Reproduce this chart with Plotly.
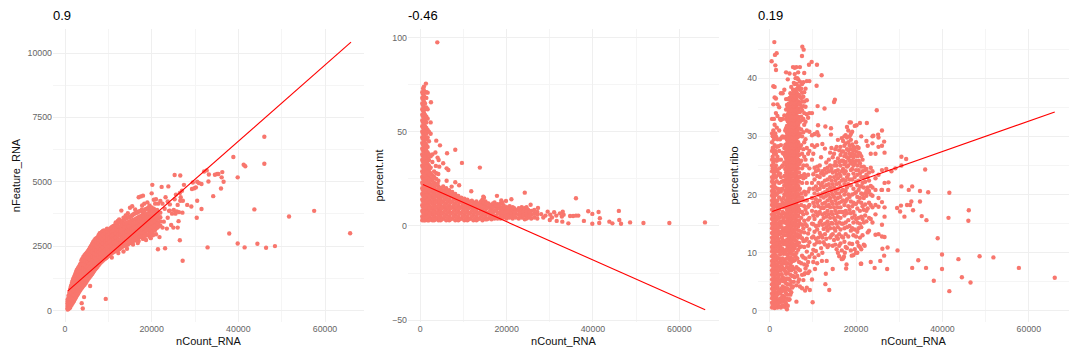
import plotly.graph_objects as go

POINT = "#F8766D"
# --- panel 1: nFeature_RNA vs nCount_RNA, columns of the dense band (count -> features)
feature_band = {
 600:[40,90,150,210,280,350,430], 800:[60,130,210,300,390,480,570], 1000:[90,180,280,380,480,590,690],
 1200:[120,240,360,480,600,720,840], 1500:[210,340,470,600,730,860,990], 1800:[300,440,590,740,890,1030,1170],
 2100:[380,530,690,840,990,1140,1290], 2400:[480,640,800,960,1120,1280,1430], 2700:[570,730,890,1050,1210,1370,1560],
 3000:[650,810,970,1130,1300,1460,1640], 3300:[740,900,1060,1220,1380,1540,1720], 3600:[820,980,1140,1300,1460,1620,1830],
 4000:[900,1060,1220,1380,1540,1700,1860,2010], 4500:[1000,1170,1340,1510,1680,1850,2020,2150], 5000:[1130,1300,1470,1640,1810,1980,2140,2240],
 5500:[1250,1420,1590,1760,1930,2100,2270,2360], 6000:[1360,1530,1700,1870,2040,2210,2380,2510], 6500:[1480,1650,1820,1990,2160,2330,2500,2660],
 7000:[1600,1770,1940,2110,2280,2450,2620,2780], 7500:[1700,1870,2040,2210,2380,2550,2700,2840], 8000:[1820,1990,2160,2330,2500,2660,2820,3000],
 8500:[1900,2070,2240,2410,2570,2730,2890,3050], 9000:[1980,2150,2320,2490,2650,2810,2970,3110], 9500:[2040,2210,2380,2550,2710,2870,3030],
 10000:[2120,2290,2460,2630,2790,2950,3110], 10500:[2190,2360,2530,2700,2860,3020,3200], 11000:[2250,2420,2590,2760,2920,3080,3260],
 11500:[2300,2470,2640,2810,2970,3130,3310], 12000:[2360,2530,2700,2870,3030,3190,3370], 12500:[2380,2560,2740,2910,3070,3240,3540],
 13000:[2450,2620,2790,2960,3120,3290,3460,3880], 13500:[2290,2500,2670,2840,3010,3170,3340,3600], 14000:[2540,2710,2880,3050,3210,3380,3690],
 14500:[2560,2750,2920,3090,3250,3420,3780], 15000:[2620,2790,2960,3130,3290,3460,3640,3990], 15500:[2700,2850,3010,3180,3340,3500,3700,4050],
 16000:[2720,2880,3050,3210,3370,3530,3760], 16500:[2760,2930,3090,3250,3410,3570,3810], 17000:[2700,2960,3130,3290,3450,3620,3840,4400],
 17500:[2860,3020,3180,3340,3500,3660,3880,4430], 18000:[2780,2990,3150,3310,3470,3640,3800,4460], 18500:[2900,3080,3240,3400,3560,3720,3920],
 19000:[2940,3120,3280,3440,3600,3760,3960,4200], 19500:[2870,3060,3220,3380,3540,3700,3880,4080], 20000:[3000,3170,3330,3490,3650,3810,4000,4550],
 20500:[3110,3280,3440,3600,3760,3950,4300], 21000:[2960,3200,3370,3530,3700,3870,4320], 21500:[3250,3420,3580,3750,4150],
 22000:[3300,3460,3620,3800,4250],
}
feature_fill = {
 1350:[290,420,550,680,800,930], 1650:[270,400,530,670,810,950,1100], 1950:[350,490,640,790,940,1090,1240], 2250:[440,590,750,910,1060,1210,1360],
 2550:[530,690,850,1010,1170,1330,1490], 2850:[610,770,930,1090,1250,1420,1590], 3150:[700,860,1020,1180,1340,1500,1680], 3450:[780,940,1100,1260,1420,1580,1770],
 3800:[860,1020,1180,1340,1500,1660,1800,1950], 4250:[960,1120,1290,1460,1630,1800,1960,2090], 4750:[1060,1230,1400,1570,1740,1910,2080,2200],
 5250:[1190,1360,1530,1700,1870,2040,2200,2300], 5750:[1310,1480,1650,1820,1990,2160,2330,2440], 6250:[1420,1590,1760,1930,2100,2270,2440,2580],
 6750:[1540,1710,1880,2050,2220,2390,2560,2720], 7250:[1650,1820,1990,2160,2330,2500,2670,2810], 7750:[1760,1930,2100,2270,2440,2610,2760,2920],
 8250:[1860,2030,2200,2370,2530,2690,2860,3010], 8750:[1940,2110,2280,2450,2610,2770,2930,3090], 9250:[2010,2180,2350,2520,2680,2840,3000],
 9750:[2080,2250,2420,2590,2750,2910,3070], 10250:[2150,2320,2490,2660,2820,2980,3150], 10750:[2220,2390,2560,2730,2890,3050,3230],
 11250:[2270,2440,2610,2780,2940,3100,3280], 11750:[2330,2500,2670,2840,3000,3160,3340], 12250:[2420,2590,2760,2930,3100,3280,3450],
 12750:[2420,2590,2760,2930,3090,3260,3430], 13250:[2480,2650,2820,2980,3140,3310,3490], 13750:[2520,2690,2860,3030,3190,3360,3520],
 14250:[2550,2730,2900,3070,3230,3400,3570], 14750:[2600,2770,2940,3110,3270,3440,3620], 15250:[2660,2820,2990,3150,3310,3480,3660],
 15750:[2710,2870,3030,3200,3350,3520,3730], 16250:[2740,2910,3070,3230,3390,3550,3780], 16750:[2800,2950,3110,3270,3430,3600,3800],
 17250:[2850,3000,3160,3320,3480,3640,3860], 17750:[2880,3040,3200,3360,3520,3690,3920], 18250:[2890,3040,3200,3360,3520,3680,3860],
 18750:[2920,3100,3260,3420,3580,3740,3940], 19250:[2960,3140,3300,3460,3620,3780,3980], 19750:[2980,3150,3300,3460,3620,3780,3960],
 20250:[3060,3230,3390,3550,3710,3880], 20750:[3120,3290,3460,3620,3790], 21250:[3210,3380,3550,3720,3900],
}
feature_sparse = [
 (22500,3220),(22800,3450),(23000,3950),(23200,4400),(23500,3180),(23700,3600),(24000,3870),(24200,4120),(24500,3320),(24700,3760),
 (25000,3220),(25100,3900),(25300,4320),(25500,3760),(25600,4500),(25800,3850),(26000,4100),(26200,3470),(26300,3820),(26500,4560),
 (26600,4260),(26700,4400),(27000,4650),(27100,3800),(27200,4260),(26000,3220),(24200,3880),(23700,4230),(22500,4150),(21800,2850),
 (10800,2060),(12300,2230),(14300,2400),(15700,2560),(16800,2620),(18700,2740),(19800,2810),(20300,2920),(12200,3480),(14800,3620),
 (16200,3920),(17800,4080),(18300,4150),(20800,4150),(11700,3420),(9700,3180),
]
feature_outliers = [
 (46000,6750),(46000,5700),(38850,5960),(41230,5660),(41600,5600),(39850,5170),(36300,5375),(36600,5000),(36000,4740),(36150,5170),
 (34200,4440),(35100,5300),(34600,5270),(35400,5300),(33100,5010),(33200,5280),(32700,5440),(32100,5400),(31500,4910),(30900,4950),
 (30500,5000),(29500,4970),(30200,4780),(29300,4720),(29850,4750),(30500,4260),(31500,3940),(30400,3600),(29150,4040),(28200,4100),
 (43700,3925),(51700,3650),(57500,3870),(65800,3000),(37900,2990),(39850,2600),(41450,2450),(44400,2590),(46400,2435),(48450,2500),
 (32900,2450),(26500,2730),(27150,1930),(21450,2380),(23100,2420),(25300,5260),(26600,5245),(20150,4880),(22300,4800),(23850,4820),
 (27450,4880),(9400,450),(4400,520),(3850,285),(4100,80),(5800,950),(2000,1210),(1600,1020),
]
feature_fit_x = [600,66000]
feature_fit_y = [750,10420]

# --- panel 2: percent.mt vs nCount_RNA (count -> percent)
mt_band = {
 450:[3,5,8,11,14,17,20,23,26,29,32,35,38,41,44,47,50,53,56,59,62,65,68,71],
 650:[4,7,10,13,16,19,22,25,28,31,34,37,40,43,46,49,52,55,58,61,64,67,70,73],
 850:[3,6,9,12,15,18,21,24,27,30,33,36,39,42,45,48,51,54,57,60,63,66,69,72,74],
 1100:[3,5,8,11,14,17,20,23,26,29,32,35,38,41,44,47,50,53,56,59,62,65],
 1400:[4,7,10,13,16,19,22,25,28,31,34,37,40,43,46,49,52,55,58,63,68,71],
 1700:[3,6,9,12,15,18,21,24,27,30,33,36,39,42,47,51,57,62],
 2000:[3,5,8,11,14,17,20,23,26,29,32,35,38,45,50],
 2400:[4,7,10,13,16,19,22,25,28,31,37,49,55],
 2800:[3,6,9,12,15,18,21,24,27,34,38],
 3200:[3,5,8,11,14,17,20,23,26,29],
 3700:[4,7,10,13,16,19,22,25,28],
 4200:[3,6,9,12,15,18,21,24],
 4700:[3,5,8,11,14,17,20],
 5300:[4,7,10,13,16,19,21],
 6000:[3,6,9,12,15,18,20],
 6700:[3,5,8,11,14,17,19],
 7400:[4,7,10,13,16,18],
 8100:[3,6,9,12,15,17],
 8800:[3,5,8,11,14,16],
 9500:[4,7,10,13,15],
 10200:[3,6,9,12,14.5],
 10900:[3,5,8,11,14],
 11600:[4,7,10,13],
 12300:[3,6,9,12.5],
 13000:[3,5,8,11,13],
 13700:[4,7,10,12],
 14400:[3,6,9,11.5,14],
 15100:[3.5,5,8,11,13],
 15800:[4,7,10,12],
 16500:[3.5,6,9,11],
 17200:[4,5,8,10.5,12.5],
 17900:[4,7,9.5,11.5],
 18600:[4,6,8,10,12],
 19300:[4.5,6.5,8.5,11],
 20000:[4,6,8,10],
 20700:[4.5,6.5,8.5,10.5],
 21400:[4,6,8,10],
 22100:[4.5,6.5,8.5],
 22800:[4,6,8,9.5],
 23500:[4.5,6.5,8.5,10],
 24200:[3.5,5.5,7.5,9.5],
 25000:[4.5,6.5,8.5],
 25700:[4,6,8],
 26400:[4.5,6.5,8.5],
 27100:[4,6,7.5],
}
mt_fill = {
 1000:[4.5,7.5,10,12.5,15.5,18.5,21.5,24.5,27.5,30.5,33.5,36.5],
 1550:[4.5,7.5,10.5,13.5,16.5,19.5,22.5,25.5,28.5,31.5,34.5],
 2200:[3.5,6.5,9.5,12.5,15.5,18.5,21.5,24.5,27.5,30.5],
 3000:[4.5,7.5,10.5,13.5,16.5,19.5,22.5,25.5],
 3500:[3.5,6.5,9.5,12.5,15.5,18.5,21.5],
 4000:[4.5,7.5,10.5,13.5,16.5,19.5,22.5],
 4500:[4,7,10,13,16,19],
 5000:[3.5,6.5,9.5,12.5,15.5,18.5],
 5650:[5,8,11,14,17],
 6350:[4,7,10,13,16,18.5],
 7050:[3.5,6.5,9.5,12.5,15.5,17.8],
 7750:[5,8,11,14,16.5],
 8450:[4,7,10,13,15.5],
 9150:[3.5,6.5,9.5,12.5,14.8],
 9850:[5,8,11,13.8],
 10550:[4,7,10,12.8],
 11250:[3.5,6.5,9.5,12.2],
 11950:[5,8,11,13.4],
 12650:[4,7,10,12],
 13350:[3.5,6.5,9.5,11.6],
 14050:[5,8,11,13],
 14750:[4,7,10,12.4,15],
 15450:[3.5,6.5,9.5,12],
 16150:[5,8,11],
 16850:[4.5,7,10,12],
 17550:[5.5,8.5,11],
 18250:[4.5,7,9.5,11],
 18950:[5,7.5,9.5,12.5],
 19650:[5,7,9.5],
 20350:[5.5,7.5,9.5],
 21050:[5,7,9],
 21750:[5.5,7.5,9.5],
 23150:[5,7,9],
 23850:[5.5,7.5],
 24600:[4,6,8,10],
 25350:[5.5,7.5],
}
mt_outliers = [
 (3940,97.5),(1300,75.6),(1700,70.8),(2470,65.7),(3700,45.3),(4560,42.8),(8100,40.5),(6200,38.6),(9650,33.5),(13800,31),
 (5300,33.3),(6100,30.6),(6500,29.7),(4250,35),(3500,39),(4000,36.3),(3600,31.9),(4400,31.5),(4170,27.6),(6100,24),
 (8100,23.2),(9000,21.6),(7260,20.9),(11800,18.4),(24200,17.7),(17760,16),(36060,14.7),(21100,14.2),(25560,11.3),(27260,9.6),
 (14600,15.6),(19850,13.3),(18760,13.5),(46000,8),(41300,7.4),(38900,7.8),(39850,6.4),(41600,4.1),(37900,2.7),(39850,1.2),
 (41450,1.6),(43800,2.3),(44500,1.4),(46100,3.2),(46500,1.2),(48600,1.9),(51700,1.6),(57700,1.6),(65950,1.9),(34700,5.3),
 (35400,5.3),(36060,5.5),(36600,5.5),(34300,1.4),(32900,2.3),(31600,2.7),(30000,3.2),(33000,7.6),(32350,6.7),(31000,7.3),
 (29500,7.6),(30100,6),(29000,5.5),(31500,5.5),(32800,5),(28500,4.5),(30500,4.5),(33200,6),(28000,6.3),
]
mt_fit_x = [600,66000]
mt_fit_y = [22,-44.5]

# --- panel 3: percent.ribo vs nCount_RNA (count -> percent)
ribo_band = {
 550:[0.6,1.4,2.2,3,3.8,4.6,5.4,6.2,7,7.8,8.6,9.4,10.2,11,11.8,12.6,13.4,14.2,15,15.8,16.6,17.4,18.2,19,19.8,20.6,21.4,22.2,23,24,25,26,27.5,29,30.5,33],
 850:[0.8,1.6,2.4,3.2,4,4.8,5.6,6.4,7.2,8,8.8,9.6,10.4,11.2,12,12.8,13.6,14.4,15.2,16,16.8,17.6,18.4,19.2,20,21,22,23,24,25.5,28,31,35.5,38.6],
 1150:[0.5,1.2,2,2.8,3.6,4.4,5.2,6,6.8,7.6,8.4,9.2,10,10.8,11.6,12.4,13.2,14,14.8,15.6,16.4,17.2,18,19,20.5,22,24,26,28.5,32,36.7,38.5],
 1450:[0.7,1.5,2.3,3.1,3.9,4.7,5.5,6.3,7.1,7.9,8.7,9.5,10.3,11.1,11.9,12.7,13.5,14.3,15.1,16,17,18.5,20,23,25,27,30,34,36.5],
 1800:[0.6,1.8,3,4.2,5.4,6.6,7.8,9,10.2,11.4,12.6,13.8,15,16.2,17.4,19,21,24,26.5,29.5,33.5,35.5],
 2200:[0.8,2,3.4,4.8,6.2,7.6,9,10.4,11.8,13.2,14.6,16,17.4,19.5,22,24.5,27.5,31,35],
 2600:[0.6,2.2,3.8,5.4,7,8.6,10.2,11.8,13.4,15,16.6,18.2,20.5,23,26,28.5,32.8,37.4],
 3000:[1,2.6,4.2,5.8,7.4,9,10.6,12.2,13.8,15.4,17,18.6,21,25,27.2,30,33,37.4],
 3400:[0.7,2.4,4,5.6,7.2,8.8,10.4,12,13.6,15.2,16.8,18.4,20,21.6,23.2,25.5,28,29.8,33.6,38],
 3800:[1.2,3,4.7,6.4,8.1,9.8,11.4,13,14.2,15.4,16.6,17.8,19,20.2,21.4,22.6,23.8,25,26.2,27.4,28.6,30,31.4,33,34.6,36.4,41],
 4200:[0.9,2.8,4.6,6.5,8.2,9.6,11,12.2,13.4,14.6,15.8,17,18.2,19.4,20.6,21.8,23,24.2,25.4,26.6,27.8,29,30.2,31.4,32.6,33.8,35,36.4,39.8],
 4600:[2,3.6,5.4,7,8.8,10,11.2,12.4,13.6,14.8,16,17.2,18.4,19.6,20.8,22,23.2,24.4,25.6,26.8,28,29.2,30.4,31.6,32.8,34,35.2,36.6,40.8],
 5000:[3.2,5,7,8.4,9.8,11,12.2,13.4,14.6,15.8,17,18.2,19.4,20.6,21.8,23,24.2,25.4,26.6,27.8,29,30.2,31.4,32.6,33.8,35,36.2,37,38.5],
 5400:[4.2,6,8.6,10.4,11.6,12.8,14,15.2,16.4,17.6,18.8,20,21.2,22.4,23.6,24.8,26,27.2,28.4,29.6,30.8,32,33.2,34.4,35.6,36.8,38,41.9],
 5800:[5.8,8.7,10.8,12.2,13.4,14.6,15.8,17,18.2,19.4,20.6,21.8,23,24.2,25.4,26.6,27.8,29,30.2,31.4,32.6,33.8,35,36.2,37.4,39,40.7,41.8],
 6200:[4.4,7.5,10,12,14,15.6,17,18.4,19.6,20.8,22,23.2,24.4,25.6,26.8,28,29.2,30.4,31.6,32.8,34,35.2,36.4,37.6,39,41.9],
 6600:[5,7.2,10.5,12.6,14.5,16.4,18,20,21.5,23,24.5,26,27.5,29,30.5,32,33.4,34.8,36,37.2,38.4,39.8,41],
 7000:[4.2,7,11,13,15,17,19,21,23,25.5,28,30.5,32.5,34.2,35.5,36.8,38,39.4,41.9],
 7500:[3.9,6.2,9.5,12.5,14.8,17,19.5,22,24.5,27,30,32.8,34.5,36,37.5,39],
 8000:[6.3,8,11,13.5,15.5,18,20.5,23.5,26.5,29,32,34,36,37.6,40.9],
 8600:[4,7.8,10.2,12.4,14.6,16.8,19,22,25,28,31,33.8,36.2,39.5],
 9200:[6.8,9.3,11.8,14,16,18.2,21,24.5,27.5,30.8,34,39.5],
 9800:[5.4,9.8,12.6,15,17.2,19.4,22,26,28.5,30.2,34],
 10400:[9.2,11.4,13.6,15.8,18,20.2,22.6,24.6,28.2,30.4],
 11000:[8.2,11.8,14,16.4,18.6,20.8,23.2,24.8,28.5,30.7],
 11600:[11.8,13.4,15.2,17,19,21,23,25],
 12200:[10,12.6,14.8,16.6,18.4,20.2,22,24,28.7],
 12800:[11.4,13.2,15,16.8,18.6,20.4,22.4,24.4,27.9],
 13400:[11,13.8,15.4,17.2,19,20.8,22.6,24.6],
 14000:[12.6,14.2,16,17.8,19.4,21.2,23,25,27.2],
 14600:[11.2,13.2,15,16.6,18.4,20,21.8,23.8,26.4],
 15200:[11.4,13.8,15.6,17.2,19,20.6,22.4,24,25.6,27.8],
 15800:[10,12.4,14.4,16.2,17.8,19.4,21,22.8,24.2,26.2,29.4],
 16400:[11.6,14,16,17.8,19.6,21.4,23.2,25,26.8,28.2],
 17000:[9,12.6,15,17,19,20.8,22.6,24.4,25.8,27.4,29.2],
 17600:[11,13.2,15.2,17.2,18.8,20.6,22.4,24,25.6,27,28.8,30.2],
 18200:[12.8,15.6,18,20,21.8,23.4,25,26.2,27.6,29,31],
 18800:[10.4,13.8,16.8,18.8,21.6,24.2,25.4,26.6,27.8,29.4,30.4,32.4],
 19400:[9.6,13,15.2,17,18.6,21,23.6,25,26.4,27.6,28.2],
 20000:[10,12.8,15.8,18.4,20.4,22.2,24.2,25.8,27.4,29],
 20600:[11.2,14.2,16,18.8,20.8,22.4,24.2,25.8,27.2,28],
 21200:[8.1,10.6,14.4,16.2,18.6,20.2,21.4,23,24.8,26.6,30],
 21800:[11.4,15.2,17.4,19.4,21.2,23,24.8],
 22400:[15.4,17.2,19.8,20.6,23.4,24.4,29.2],
 23000:[13.8,16,18.6,20.6,22.4,23.8],
 23800:[15.2,17.8,19.8,21.2,24,28.8,30],
 24500:[13.1,16.6,18.2,20.8,22.8,27],
 25200:[13.2,17.9,19.4,23.4,28.2,29.8],
 26000:[12.8,14.8,18.7,20.8,24.2,28.4],
 26600:[12.7,16.2,17.8,22,27.2],
}
ribo_fill = {
 700:[1,2.6,4.4,6.6,8.2,10.6,12.2,14.6,16.2,18.6,20.2,22.6,24.5,26.5,28,30],
 1000:[1.9,3.5,5.1,7.5,9.1,11.5,13.1,15.5,17.1,19.5,21.5,23.5,27,29.5,33],
 1300:[1,2.5,4.9,6.5,8.9,10.5,12.9,14.5,16.9,18.5,20,21.2,23,24.5,27.5,30.5],
 1650:[1.2,2.7,4.8,7.3,9.3,11.6,13.2,15.7,18,20,22.3,25.8,28.2,31.5],
 2000:[1.4,3.7,5.9,8.3,10.9,12.3,14.3,16.8,18.3,20.4,23.4,26,28.3],
 2400:[1.5,3,5.1,7,9.7,11.2,13.6,15.4,17.8,20.9,23.6,29.5,33],
 2800:[1.7,3.4,6.3,8,10.8,12.6,14.4,16.2,19.1,22.2,24.8,29.8],
 3200:[1.8,3.6,5.1,8.2,9.8,11.5,13,15.8,17.8,19.4,22.4,27],
 3600:[1.5,3.4,5.2,6.8,8.4,10,11.7,14.2,16.2,18,20.6,22.2,24.4,26.6,28.5,31],
 4000:[2.1,3.9,5.6,7.5,9,10.6,12.2,13.8,15,16.2,17.4,18.6,19.8,21,22.2,23.4,24.6,25.8,27,28.2,29.4,30.6,31.8,33.4,35.4],
 4400:[1.9,3.7,5.5,7.3,9,10.4,11.6,12.8,14,15.2,16.4,17.6,18.8,20,21.2,22.4,23.6,24.8,26,27.2,28.4,29.6,30.8,32,33.2,34.4,35.6],
 4800:[2.8,4.5,6.2,7.8,9.2,10.6,11.8,13,14.2,15.4,16.6,17.8,19,20.2,21.4,22.6,23.8,25,26.2,27.4,28.6,29.8,31,32.2,33.4,34.6,35.8,37.4],
 5200:[4,6,7.6,9,10.4,11.6,12.8,14,15.2,16.4,17.6,18.8,20,21.2,22.4,23.6,24.8,26,27.2,28.4,29.6,30.8,32,33.2,34.4,35.6,36.8],
 5600:[5,7.2,9.7,11.2,12.4,13.6,14.8,16,17.2,18.4,19.6,20.8,22,23.2,24.4,25.6,26.8,28,29.2,30.4,31.6,32.8,34,35.2,36.4,37.6,39.2],
 6000:[6.6,9.4,11.4,12.8,14,15.2,16.4,17.6,18.8,20,21.2,22.4,23.6,24.8,26,27.2,28.4,29.6,30.8,32,33.2,34.4,35.6,36.8,38,40],
 6400:[6,9,11.3,13.2,14.8,16.2,17.6,19,20.2,21.4,22.6,23.8,25,26.2,27.4,28.6,29.8,31,32.2,33.4,34.6,35.8,37,38.2,40],
 6800:[5.4,8.4,11.7,13.8,15.5,17.4,19.6,20.8,22.2,23.8,25.2,26.8,28.4,30,31.4,32.8,34.2,35.6,37,38.6],
 7300:[8.2,11.1,13.6,16,18.2,20.2,23.2,25.8,28.5,31.2,33.4,35,36.6,38.2],
 7800:[5.3,9.2,12,14.2,16.6,19,22.8,25,27.8,30.7,33,35.2,36.8,39.3],
 8300:[7.3,9,12.1,14.9,17.4,20,23,26,29.5,32.5,35.1,38.2],
 8900:[8.4,11.2,13.3,15.7,17.9,20.5,23.4,27,33.2],
 10100:[8.4,10.5,12.8,14.9,16.4,18.6,21,23.5,27],
 10700:[10.3,12.4,14.6,17,19.2,21.4,24],
 11300:[9.6,12.6,14.7,16.7,18,20,22,24.2,30.2],
 11900:[10.8,13,15.5,17.7,19.7,21.6,23.6,26.4],
 12500:[11.8,14.1,16,17.7,19.5,21.3,23.4],
 13100:[12.4,14.4,16.2,18,19.8,21.6,23.8,25.5],
 13700:[11.3,14.8,16.6,18.2,20,21.8,24,26],
 14300:[13,15.1,17,18.8,20.6,22.4,24.4,28],
 14900:[12.2,14.2,16,17.8,19.6,21.2,23,25,27],
 15500:[10.6,12.8,15,16.8,18.4,20.2,21.8,23.4,25,28.2],
 16100:[9.4,11.2,13.2,15.2,17,18.6,20.2,22,23.6,25.6,27.6],
 16700:[10.4,12.8,15,17,18.8,20.6,22.4,24,25.8,27.4,29.7],
 17300:[11.9,14.2,16.4,18.2,20,21.8,23.6,25.2,26.6,28.4,30],
 17900:[10.8,14.4,16.8,19.2,21.2,23,24.8,26.4,27.8,29.8,31.6],
 18500:[11.6,14.6,17.4,19.6,22.6,25.8,27,28.4,30],
 19100:[11.5,14.2,16,18,20,22.6,24.4,25.8,27.1,28.6,30.8],
 19700:[10.6,14,16.4,18.4,20.2,23,25.4,26.8,28,31.8],
 20300:[11.8,13.6,15.2,17.6,19.6,21.6,23.4,25,26.6,28.2],
 20900:[12.6,15,17.2,19.4,21.4,23.6,25.4,27],
 21500:[13,15.8,18,20,22,24,26],
 22100:[16.4,18.3,20.2,22.2,24.2],
 22700:[13.5,17.6,20.4,21.2,23,28.4],
 23400:[15.8,18.2,20,21.5,24.6,27],
}
ribo_outliers = [
 (1080,46.2),(7560,45.4),(7870,44.9),(460,42.9),(1620,44.3),(1230,44),(7480,43.8),(1310,42.2),(1470,41.4),(10950,42.3),
 (9720,42.8),(9100,42.3),(12030,40.5),(10870,38.7),(11100,35.2),(12700,34.8),(15100,36.3),(14900,35.9),(24800,34.5),(18500,32.4),
 (22500,32.3),(20900,32.3),(20100,31.9),(12900,31.7),(14200,31.4),(14200,30.3),(11200,31.9),(26000,31),(26500,29.1),(25100,30.3),
 (24000,30.1),(30500,26.5),(31600,26.1),(36000,24.3),(27000,24.4),(28200,24),(29100,24.5),(30500,25),(30500,21.4),(33000,21.4),
 (32200,20.8),(34800,20.6),(36700,20.4),(41600,20.3),(27500,22.1),(27450,20.8),(25900,20.8),(32800,18.8),(34800,18.8),(32500,18.2),
 (31800,18.2),(30400,18.1),(29500,17.7),(30200,17.1),(31200,16.2),(33200,17.3),(35200,16.3),(36300,15.6),(46100,17.3),(46000,15.5),
 (41400,16),(38900,12.5),(29600,10.4),(27300,10.9),(26100,10.7),(39900,9.7),(48600,9.4),(51800,9.2),(43700,8.9),(34400,8.7),
 (23400,8.4),(25600,8.6),(26500,9.5),(27200,7.2),(24300,7.4),(21100,8.1),(33000,7.4),(36200,7.4),(39900,7.2),(57700,7.4),
 (66000,5.7),(44500,5.8),(38000,5.2),(46500,4.9),(41600,3.4),(9950,1.5),(4000,0.3),(6200,1.6),(13800,3.6),(12900,4.6),
 (13000,6.4),(14600,7.2),(12100,8.6),(13200,8.6),(10500,7.2),(17700,7.3),(17800,8),(16700,8.9),(17200,9.3),(19000,9.5),
 (20300,10),(17400,10),(20900,11),(22000,11.2),(9300,3.6),(8200,3.5),(8900,6.5),(8200,6.5),
]
ribo_fit_x = [600,66000]
ribo_fit_y = [17.1,34.2]

titles = ["0.9", "-0.46", "0.19"]
y_names = ["nFeature_RNA", "percent.mt", "percent.ribo"]
x_name = "nCount_RNA"


def unpack(bands, loose):
    xs, ys = [], []
    for band in bands:
        for x, vals in band.items():
            for v in vals:
                xs.append(x); ys.append(v)
    for group in loose:
        for x, v in group:
            xs.append(x); ys.append(v)
    return xs, ys


panels = [
    dict(pts=unpack([feature_band, feature_fill], [feature_sparse, feature_outliers]), fit=(feature_fit_x, feature_fit_y),
         dom=(53, 364), xr=(-2770, 69000), yr=(-447, 10932), ytick=2500, title_x=51, st=4),
    dict(pts=unpack([mt_band, mt_fill], [mt_outliers]), fit=(mt_fit_x, mt_fit_y),
         dom=(408, 719), xr=(-2850, 69200), yr=(-51, 104.6), ytick=50, title_x=406, st=6),
    dict(pts=unpack([ribo_band, ribo_fill], [ribo_outliers]), fit=(ribo_fit_x, ribo_fit_y),
         dom=(758, 1069), xr=(-2700, 69300), yr=(-1.9, 48.45), ytick=10, title_x=756, st=6),
]

W, H = 1080, 360
fig = go.Figure()
layout = dict(width=W, height=H, margin=dict(l=0, r=0, t=0, b=0), showlegend=False,
              paper_bgcolor="white", plot_bgcolor="white",
              font=dict(family="Liberation Sans, Arial, sans-serif"), annotations=[])
for i, p in enumerate(panels):
    n = "" if i == 0 else str(i + 1)
    fig.add_trace(go.Scatter(x=p["pts"][0], y=p["pts"][1], mode="markers", xaxis="x" + n, yaxis="y" + n,
                             marker=dict(color=POINT, size=4.4, line=dict(width=0)), hoverinfo="skip"))
    fig.add_trace(go.Scatter(x=p["fit"][0], y=p["fit"][1], mode="lines", xaxis="x" + n, yaxis="y" + n,
                             line=dict(color="#FF0000", width=1.1), hoverinfo="skip"))
    common = dict(showgrid=True, gridcolor="#EFEFEF", gridwidth=1, zeroline=False, showline=False, ticks="",
                  tickfont=dict(size=8.8, color="#666666"), automargin=False)
    layout["xaxis" + n] = dict(common, domain=[p["dom"][0] / W, p["dom"][1] / W], range=list(p["xr"]),
                               anchor="y" + n, tick0=0, dtick=20000, tickformat="d",
                               minor=dict(tick0=0, dtick=10000, showgrid=True, gridcolor="#F5F5F5", gridwidth=0.6, ticks=""),
                               title=dict(text=x_name, font=dict(size=11, color="#111111"), standoff=4))
    layout["yaxis" + n] = dict(common, domain=[1 - 322 / H, 1 - 29 / H], range=list(p["yr"]),
                               anchor="x" + n, tick0=0, dtick=p["ytick"], tickformat="d",
                               minor=dict(tick0=0, dtick=p["ytick"] / 2, showgrid=True, gridcolor="#F5F5F5", gridwidth=0.6, ticks=""),
                               title=dict(text=y_names[i], font=dict(size=11, color="#111111"), standoff=p["st"]))
    layout["annotations"].append(dict(text=titles[i], x=p["title_x"] / W, y=1 - 15.5 / H, xref="paper", yref="paper",
                                      xanchor="left", yanchor="middle", showarrow=False,
                                      font=dict(size=13, color="black")))
fig.update_layout(**layout)
fig.write_html("out.html", post_script="document.body.style.margin='0';", config=dict(displayModeBar=False))
